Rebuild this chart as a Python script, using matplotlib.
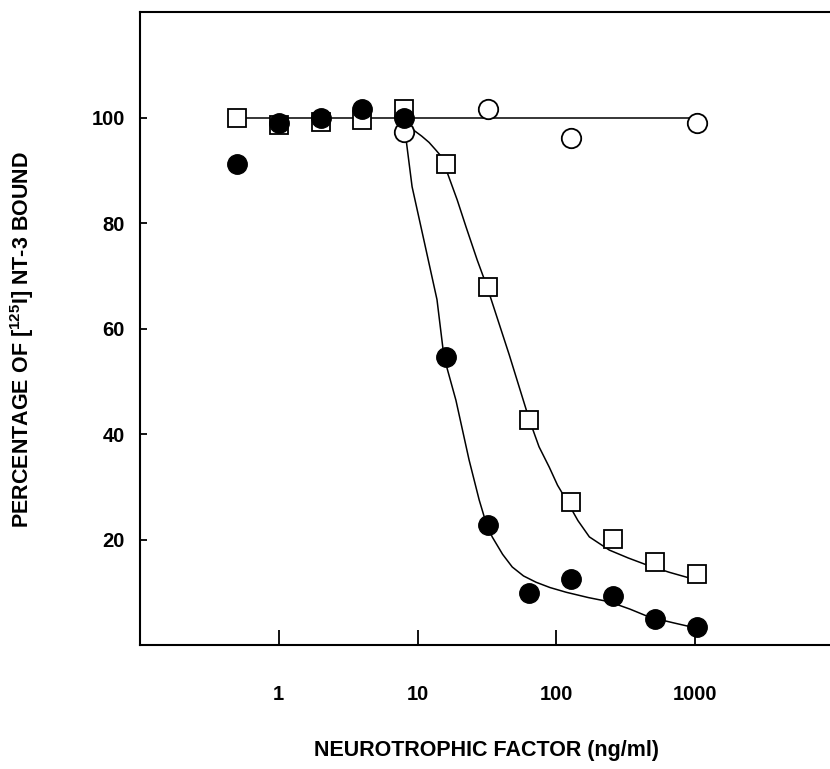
""" Displacement of [125I] NT-3 binding by neurotrophic factors """

import matplotlib.pyplot as plt

plt.rcParams["font.family"] = ["Liberation Sans", "DejaVu Sans"]
plt.rcParams["mathtext.default"] = "regular"

# Concentrations (ng/ml)
dose = [0.5, 1, 2, 4, 8, 16, 32, 64, 128, 256, 512, 1024]
dose_open = [8, 32, 128, 1024]

# Percentage bound per competitor
open_squares = [100.0, 98.6, 99.2, 99.5, 101.7, 91.3, 67.9, 42.7, 27.1, 20.2, 15.7, 13.4]
filled_circles = [91.3, 99.0, 99.9, 101.7, 99.9, 54.6, 22.7, 9.9, 12.5, 9.3, 4.9, 3.4]
open_circles = [97.3, 101.7, 96.1, 98.9]

# Fitted curves
flat_x = [0.5, 1000]
flat_y = [100, 100]
fit_filled_x = [7.0, 8.0, 8.27, 9.13, 11.1, 13.8, 15.5, 18.9, 23.5, 27.8, 31.2, 34.5,
                41.0, 48.1, 58.0, 71.5, 90.0, 118, 170, 241, 340, 468, 700, 1025]
fit_filled_y = [100.0, 99.5, 95.8, 86.9, 76.8, 65.5, 54.6, 46.4, 35.1, 27.5, 23.1, 20.5,
                17.2, 14.8, 13.1, 11.9, 10.9, 10.0, 9.0, 8.2, 6.8, 5.3, 4.2, 3.2]
fit_square_x = [7.5, 8.4, 9.4, 10.7, 12.1, 13.6, 16.0, 16.3, 19.3, 22.4, 26.9, 31.7, 45.8,
                63.9, 75.0, 89, 102, 118, 143, 173, 241, 330, 447, 650, 913, 1025]
fit_square_y = [100.0, 98.8, 97.6, 96.5, 95.3, 93.8, 91.6, 89.7, 84.4, 79.2, 73.0, 67.9, 55.0,
                42.7, 37.6, 33.7, 30.3, 27.5, 23.6, 20.5, 18.0, 16.5, 15.2, 13.8, 12.7, 12.3]

xticks = [1, 10, 100, 1000]
yticks = [20, 40, 60, 80, 100]

fig = plt.figure(figsize=(8.3, 7.69), dpi=100)
ax = fig.add_axes([0.1687, 0.1612, 0.836, 0.823])

# Curves
ax.plot(flat_x, flat_y, "-k", lw=1.1, zorder=2)
ax.plot(fit_filled_x, fit_filled_y, "-k", lw=1.1, zorder=2)
ax.plot(fit_square_x, fit_square_y, "-k", lw=1.1, zorder=2)

# Data points
ax.plot(dose, open_squares, "s", ms=13, mfc="white", mec="black", mew=1.3, ls="none", zorder=3)
ax.plot(dose_open, open_circles, "o", ms=14, mfc="white", mec="black", mew=1.3, ls="none", zorder=4)
ax.plot(dose, filled_circles, "o", ms=14, mfc="black", mec="black", mew=1.0, ls="none", zorder=5)

ax.set_xscale("log")
ax.set_xlim(0.1, 10000)
ax.set_ylim(0, 120)
ax.set_xticks(xticks)
ax.set_xticklabels([str(t) for t in xticks])
ax.xaxis.set_minor_locator(plt.NullLocator())
ax.set_yticks(yticks)
ax.set_yticklabels([str(t) for t in yticks])

ax.tick_params(axis="x", direction="in", length=11, width=1.3, pad=29, labelsize=14.5)
ax.tick_params(axis="y", direction="in", length=5, width=1.3, pad=11, labelsize=14.5)
for lab in ax.get_xticklabels() + ax.get_yticklabels():
    lab.set_fontweight("bold")

for side in ["left", "bottom", "top"]:
    ax.spines[side].set_linewidth(1.5)
ax.spines["right"].set_visible(False)

ax.set_xlabel("NEUROTROPHIC FACTOR (ng/ml)", fontsize=15.5, fontweight="bold")
ax.set_ylabel("PERCENTAGE OF [$^{125}$I] NT-3 BOUND", fontsize=15.5, fontweight="bold")
ax.xaxis.set_label_coords(0.5, -0.150)
ax.yaxis.set_label_coords(-0.150, 0.483)

plt.savefig("out.png", dpi=100)
